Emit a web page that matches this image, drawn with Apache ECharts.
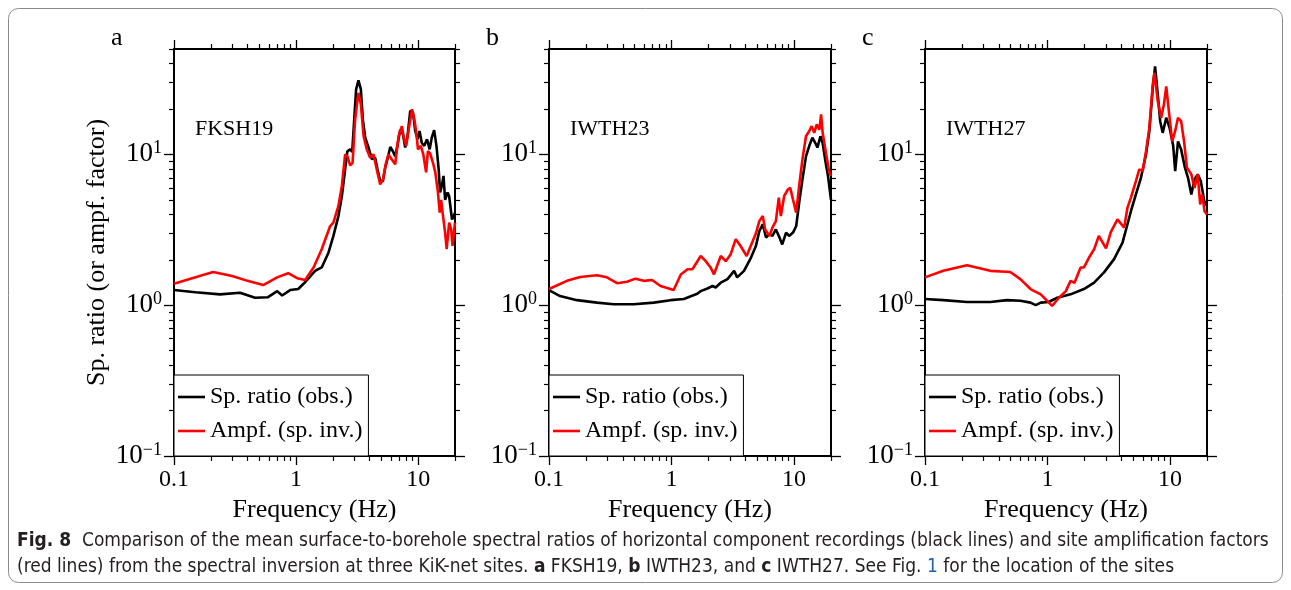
<!DOCTYPE html>
<html><head><meta charset="utf-8">
<script src="https://cdn.jsdelivr.net/npm/echarts@6/dist/echarts.min.js"></script>
<style>html,body{margin:0;padding:0;background:#fff}#c{width:1291px;height:590px}</style>
</head><body><div id="c"></div>
<script>
// ---------- data ----------
const panelLetters = ['a', 'b', 'c'];
const siteNames = ['FKSH19', 'IWTH23', 'IWTH27'];
const seriesNames = ['Sp. ratio (obs.)', 'Ampf. (sp. inv.)'];

const xMajor = [0.1, 1, 10];
const xTickLabels = ['0.1', '1', '10'];
const xMinor = [0.2,0.3,0.4,0.5,0.6,0.7,0.8,0.9,2,3,4,5,6,7,8,9,20];
const yMajor = [0.1, 1, 10];
const yTickExp = ['\u22121', '0', '1'];
const yMinor = [0.2,0.3,0.4,0.5,0.6,0.7,0.8,0.9,2,3,4,5,6,7,8,9,20,30,40,50];

// Panel a: FKSH19
const a_obs_f = [0.1,0.15,0.238,0.347,0.461,0.589,0.70,0.768,0.893,1.04,1.185,1.43,1.62,1.84,2.02,2.22,2.37,2.52,2.63,2.77,2.88,2.99,3.1,3.24,3.39,3.52,3.68,3.92,4.17,4.44,4.64,4.88,5.14,5.37,5.6,5.9,6.2,6.48,6.77,7.12,7.5,7.82,8.17,8.6,9.05,9.45,9.87,10.25,10.7,11.2,11.8,12.4,12.9,13.5,14.1,14.7,15.1,15.6,16.1,16.6,17.4,17.9,18.9,19.5,20];
const a_obs_v = [1.26,1.22,1.18,1.21,1.12,1.13,1.24,1.16,1.26,1.28,1.42,1.69,1.78,2.23,2.88,3.9,5.3,7.95,10.5,10.8,10.4,17,27,31,27,17,12.9,11.1,9.3,9.5,7.95,6.65,6.65,8.2,9.3,11.2,10.5,9.7,11.6,14.6,13.6,11.1,13.2,19.4,19,14.3,12.6,14.3,11.9,11.4,12.6,10.8,12.9,14.5,11.4,7.95,5.6,6.2,7.2,5.0,5.6,5.3,3.7,3.9,4.1];
const a_inv_f = [0.1,0.15,0.209,0.3,0.4,0.537,0.7,0.86,1.02,1.185,1.39,1.62,1.9,2.02,2.22,2.37,2.52,2.63,2.77,2.9,3.04,3.24,3.39,3.57,3.79,4.04,4.3,4.64,4.88,5.14,5.45,5.7,6.06,6.48,6.9,7.35,7.6,7.97,8.35,8.9,9.3,9.65,9.95,10.5,11.0,11.6,12.0,12.5,13.2,13.8,14.5,15,15.4,15.9,16.6,17.1,17.9,18.6,19.1,20];
const a_inv_v = [1.39,1.53,1.66,1.56,1.45,1.36,1.53,1.63,1.51,1.47,1.78,2.35,3.35,3.53,4.55,6.2,10,9.7,8.45,8.8,17,25.6,21.4,13.2,10.8,9.5,10,7.57,6.33,6.83,8.8,10,9.3,8.6,13.2,15.4,12.9,11.4,14.6,19.9,17,13.9,10.8,11.4,10,7.6,10.5,10.2,8.8,7.6,5.6,4.11,5.0,4.0,3.03,2.35,3.53,3.18,2.47,3.53];

// Panel b: IWTH23
const b_obs_f = [0.1,0.123,0.169,0.246,0.337,0.49,0.716,0.98,1.26,1.62,1.73,1.96,2.16,2.29,2.52,2.86,3.24,3.43,3.9,4.45,4.88,5.2,5.55,5.9,6.3,6.65,7.1,7.6,8.0,8.6,9.1,9.8,10.4,11.0,11.7,12.5,13.3,14.1,14.9,15.5,16.4,17.1,17.9,18.9,20];
const b_obs_v = [1.26,1.15,1.08,1.04,1.015,1.015,1.04,1.08,1.1,1.19,1.24,1.29,1.34,1.31,1.41,1.49,1.69,1.53,1.69,2.07,2.47,3.1,3.44,2.81,2.95,2.88,3.18,2.81,2.53,3.03,2.88,3.03,3.35,4.79,6.83,9.7,11.4,12.9,11.9,11.1,13.2,11.9,9.3,7.2,5.0];
const b_inv_f = [0.1,0.14,0.18,0.246,0.297,0.359,0.433,0.507,0.593,0.694,0.813,1.04,1.19,1.35,1.48,1.73,1.9,2.08,2.22,2.52,2.77,3.04,3.34,3.66,4.1,4.88,5.2,5.55,5.8,6.3,6.65,7.1,7.5,7.8,8.3,8.9,9.3,9.8,10.4,11.0,11.7,12.5,13.3,13.9,14.6,15.3,16.1,16.6,17.1,18.2,19.4,20];
const b_inv_v = [1.28,1.45,1.54,1.58,1.53,1.4,1.43,1.5,1.45,1.47,1.34,1.26,1.6,1.73,1.73,2.12,1.96,1.78,1.6,2.12,1.96,2.18,2.74,2.47,2.12,3.0,3.61,3.9,3.18,2.88,3.27,3.61,5.17,3.9,5.3,5.85,6.0,5.0,4.11,6.2,9.3,13.2,14.3,15.4,13.9,15.8,14.6,18.4,13.9,10.2,7.57,7.2];

// Panel c: IWTH27
const c_obs_f = [0.1,0.141,0.22,0.341,0.467,0.6,0.726,0.8,0.88,1.02,1.2,1.54,1.98,2.4,2.89,3.49,4.09,4.79,5.26,5.78,6.36,6.77,7.22,7.54,7.93,8.3,8.7,9.3,9.9,10.6,11.0,11.6,12.3,13.2,14.0,14.9,15.8,16.8,17.8,19.0,20];
const c_obs_v = [1.1,1.08,1.05,1.05,1.08,1.07,1.04,1.0,1.04,1.05,1.12,1.18,1.28,1.41,1.65,2.02,2.6,4.2,5.43,7.0,10,14.3,27.6,38.4,25,16.6,13.9,17.5,15.0,11.4,7.75,12.2,10.8,8.2,7.0,5.43,6.83,7.37,6.65,4.9,4.55];
const c_inv_f = [0.1,0.141,0.22,0.341,0.497,0.6,0.726,0.88,0.99,1.09,1.24,1.41,1.54,1.66,1.86,1.98,2.18,2.4,2.62,3.0,3.28,3.72,4.22,4.49,4.79,5.26,5.6,5.97,6.36,6.77,7.22,7.45,7.93,8.45,8.9,9.3,9.7,10.4,11.0,11.6,12.3,13.0,13.7,14.9,15.8,16.8,17.6,18.3,19.1,20];
const c_inv_v = [1.53,1.69,1.84,1.69,1.66,1.49,1.28,1.18,1.07,0.99,1.12,1.24,1.45,1.41,1.78,1.78,2.07,2.35,2.88,2.38,3.05,3.71,3.27,4.44,5.17,6.65,7.95,7.75,10.5,15,29,34.8,22.5,17.5,21.4,28.2,20.4,12.2,14.3,17.5,16.6,12.2,8.2,7.37,6.0,7.37,4.66,5.43,4.2,4.0];

const panelData = [
  [[a_obs_f, a_obs_v], [a_inv_f, a_inv_v]],
  [[b_obs_f, b_obs_v], [b_inv_f, b_inv_v]],
  [[c_obs_f, c_obs_v], [c_inv_f, c_inv_v]]
];

// ---------- layout / style ----------
const SERIF = "'Liberation Serif', 'Times New Roman', serif";
const gridLeft = [174, 549, 925];
const gridW = [281, 282, 282];
const gridTop = 49, gridH = 407;
const lineColors = ['#000000', '#ff0000'];

function idxOf(arr, v) {
  return arr.findIndex(t => Math.abs(t - v) / t < 1e-6);
}

const grids = [], xAxes = [], yAxes = [], series = [], legends = [], graphics = [];
for (let p = 0; p < 3; p++) {
  grids.push({ left: gridLeft[p], top: gridTop, width: gridW[p], height: gridH, containLabel: false });
  const baseX = { gridIndex: p, type: 'log', logBase: 10, min: 0.1, max: 20, splitLine: { show: false } };
  const baseY = { gridIndex: p, type: 'log', logBase: 10, min: 0.1, max: 50, splitLine: { show: false } };
  const lineOn = { show: true, onZero: false, lineStyle: { color: '#000', width: 2 } };
  const tickMaj = (len) => ({ show: true, inside: false, length: len, customValues: xMajor, lineStyle: { color: '#000', width: 1.3 } });
  // x axes
  xAxes.push(Object.assign({}, baseX, {
    position: 'bottom', axisLine: lineOn,
    axisTick: tickMaj(9),
    axisLabel: { show: true, customValues: xMajor, margin: 12, color: '#000', fontFamily: SERIF, fontSize: 24,
      formatter: v => { const i = idxOf(xMajor, v); return i >= 0 ? xTickLabels[i] : ''; } },
    name: 'Frequency (Hz)', nameLocation: 'middle', nameGap: 39,
    nameTextStyle: { color: '#000', fontFamily: SERIF, fontSize: 26 }
  }));
  xAxes.push(Object.assign({}, baseX, {
    position: 'bottom', axisLine: { show: false },
    axisTick: { show: true, inside: false, length: 5, customValues: xMinor, lineStyle: { color: '#000', width: 1.2 } },
    axisLabel: { show: false }
  }));
  xAxes.push(Object.assign({}, baseX, {
    position: 'top', axisLine: lineOn, axisTick: tickMaj(9), axisLabel: { show: false }
  }));
  xAxes.push(Object.assign({}, baseX, {
    position: 'top', axisLine: { show: false },
    axisTick: { show: true, inside: false, length: 5, customValues: xMinor, lineStyle: { color: '#000', width: 1.2 } },
    axisLabel: { show: false }
  }));
  // y axes
  const yMajTick = { show: true, inside: false, length: 10, customValues: yMajor, lineStyle: { color: '#000', width: 1.3 } };
  const yMinTick = { show: true, inside: false, length: 5, customValues: yMinor, lineStyle: { color: '#000', width: 1.2 } };
  const yLeft = Object.assign({}, baseY, {
    position: 'left', axisLine: lineOn, axisTick: yMajTick,
    axisLabel: { show: true, customValues: yMajor, margin: 12, color: '#000', fontFamily: SERIF,
      formatter: v => { const i = idxOf(yMajor, v); return i >= 0 ? '{b|10}{s|' + yTickExp[i] + '}' : ''; },
      rich: {
        b: { fontFamily: SERIF, fontSize: 27, color: '#000' },
        s: { fontFamily: SERIF, fontSize: 18, color: '#000', padding: [0, 0, 12, 0] }
      } }
  });
  if (p === 0) {
    yLeft.name = 'Sp. ratio (or ampf. factor)';
    yLeft.nameLocation = 'middle';
    yLeft.nameGap = 64;
    yLeft.nameTextStyle = { color: '#000', fontFamily: SERIF, fontSize: 26 };
  }
  yAxes.push(yLeft);
  yAxes.push(Object.assign({}, baseY, { position: 'left', axisLine: { show: false }, axisTick: yMinTick, axisLabel: { show: false } }));
  yAxes.push(Object.assign({}, baseY, { position: 'right', axisLine: lineOn, axisTick: yMajTick, axisLabel: { show: false } }));
  yAxes.push(Object.assign({}, baseY, { position: 'right', axisLine: { show: false }, axisTick: yMinTick, axisLabel: { show: false } }));

  for (let s = 0; s < 2; s++) {
    const [fArr, vArr] = panelData[p][s];
    series.push({
      name: seriesNames[s], type: 'line', xAxisIndex: 4 * p, yAxisIndex: 4 * p,
      data: fArr.map((f, i) => [f, vArr[i]]),
      symbol: 'none', smooth: false, clip: true,
      lineStyle: { color: lineColors[s], width: 2.6 }, itemStyle: { color: lineColors[s] },
      z: 2 + s
    });
  }

  legends.push({
    show: true, orient: 'vertical', left: gridLeft[p], bottom: 590 - (gridTop + gridH),
    data: seriesNames.map(n => ({ name: n, icon: 'rect' })), selectedMode: false,
    itemWidth: 27, itemHeight: 2.6, itemGap: 10,
    padding: [10, 6, 13, 4],
    backgroundColor: '#fff', borderColor: '#000', borderWidth: 1, borderRadius: 0,
    textStyle: { color: '#000', fontFamily: SERIF, fontSize: 24, lineHeight: 24 },
    z: 10
  });

  graphics.push({ type: 'text', left: [111, 486, 862][p], top: 25,
    style: { text: panelLetters[p], font: '26px ' + SERIF, fill: '#000' } });
  graphics.push({ type: 'text', left: gridLeft[p] + 21, top: 118,
    style: { text: siteNames[p], font: '22px ' + SERIF, fill: '#000' } });
}

// figure frame + caption
graphics.push({ type: 'rect', shape: { x: 8.5, y: 8.5, width: 1274, height: 574, r: 10 },
  style: { fill: 'none', stroke: '#8a8a8a', lineWidth: 1 }, z: -1 });
const CAP = "'Liberation Sans Narrow', 'DejaVu Sans Condensed', 'Noto Sans', sans-serif";
const capRich = {
  fb: { fontFamily: CAP, fontSize: 19, fontWeight: 'bold', fill: '#231f20' },
  n: { fontFamily: CAP, fontSize: 19, fill: '#231f20' },
  bb: { fontFamily: CAP, fontSize: 19, fontWeight: 'bold', fill: '#231f20' },
  bl: { fontFamily: CAP, fontSize: 19, fill: '#1f5fb4' }
};
graphics.push({ type: 'text', left: 17, top: 532,
  style: { text: '{fb|Fig. 8}{n|  Comparison of the mean surface-to-borehole spectral ratios of horizontal component recordings (black lines) and site amplification factors}',
    rich: capRich } });
graphics.push({ type: 'text', left: 17, top: 558,
  style: { text: '{n|(red lines) from the spectral inversion at three KiK-net sites. }{bb|a}{n| FKSH19, }{bb|b}{n| IWTH23, and }{bb|c}{n| IWTH27. See Fig. }{bl|1}{n| for the location of the sites}',
    rich: capRich } });

const chart = echarts.init(document.getElementById('c'), null, { renderer: 'canvas' });
chart.setOption({
  animation: false,
  backgroundColor: '#fff',
  grid: grids, xAxis: xAxes, yAxis: yAxes, series: series, legend: legends, graphic: graphics
});
</script></body></html>
